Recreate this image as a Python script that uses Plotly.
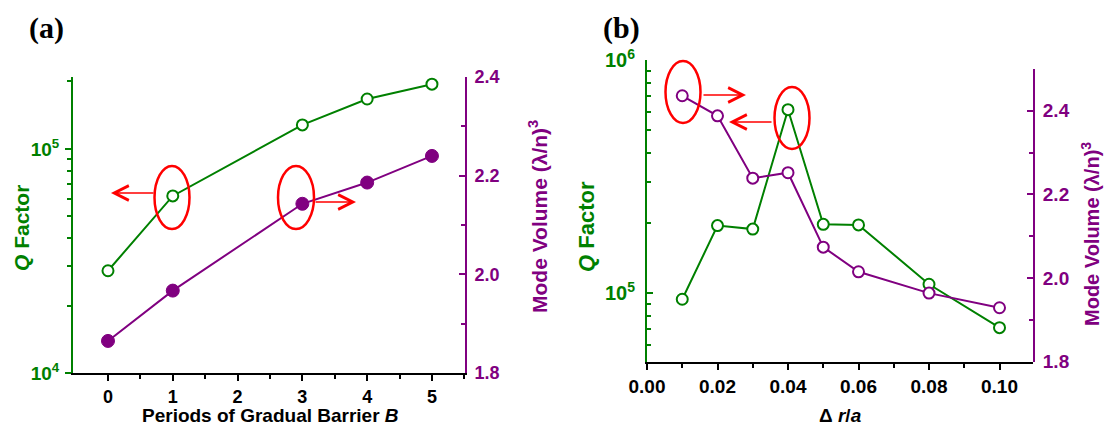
import math
import plotly.graph_objects as go

# ---------------- data ----------------
periods_B = [0, 1, 3, 4, 5]
q_factor_a = [28600, 61700, 128000, 167000, 194500]
mode_vol_a = [1.865, 1.967, 2.143, 2.186, 2.240]

delta_r_a = [0.01, 0.02, 0.03, 0.04, 0.05, 0.06, 0.08, 0.10]
q_factor_b = [94000, 194600, 188000, 612000, 197000, 196000, 109000, 71000]
mode_vol_b = [2.436, 2.388, 2.239, 2.252, 2.074, 2.015, 1.964, 1.929]

xticks_a = [0, 1, 2, 3, 4, 5]
xticks_b = [0.00, 0.02, 0.04, 0.06, 0.08, 0.10]
vticks = [1.8, 2.0, 2.2, 2.4]

# ---------------- style ----------------
PAGE_W, PAGE_H = 1112, 436
BODY = 8  # default page margin around the plot div
W, H = PAGE_W - 2 * BODY, PAGE_H - 2 * BODY
GREEN = "#008000"
PURPLE = "#800080"
RED = "#ff0000"
FONT = "Liberation Sans"


def px(x):
    return (x - BODY) / W


def py(y):
    return 1 - (y - BODY) / H


fig = go.Figure()

# panel (a)
fig.add_trace(go.Scatter(
    x=periods_B, y=q_factor_a, xaxis="x", yaxis="y", mode="lines+markers",
    line=dict(color=GREEN, width=2),
    marker=dict(symbol="circle", size=11, color="white", line=dict(color=GREEN, width=2)),
    showlegend=False))
fig.add_trace(go.Scatter(
    x=periods_B, y=mode_vol_a, xaxis="x", yaxis="y2", mode="lines+markers",
    line=dict(color=PURPLE, width=2),
    marker=dict(symbol="circle", size=13, color=PURPLE, line=dict(color=PURPLE, width=1)),
    showlegend=False))

# panel (b)
fig.add_trace(go.Scatter(
    x=delta_r_a, y=q_factor_b, xaxis="x2", yaxis="y3", mode="lines+markers",
    line=dict(color=GREEN, width=2),
    marker=dict(symbol="circle", size=11, color="white", line=dict(color=GREEN, width=2)),
    showlegend=False))
fig.add_trace(go.Scatter(
    x=delta_r_a, y=mode_vol_b, xaxis="x2", yaxis="y4", mode="lines+markers",
    line=dict(color=PURPLE, width=2),
    marker=dict(symbol="circle", size=11, color="white", line=dict(color=PURPLE, width=2)),
    showlegend=False))

tick_black = dict(family=FONT, size=18, color="black", weight="bold")
tick_green = dict(family=FONT, size=19, color=GREEN, weight="bold")
tick_purple = dict(family=FONT, size=18, color=PURPLE, weight="bold")


def log_minor(lo_exp, hi_val):
    vals = []
    for e in range(lo_exp - 1, 8):
        for m in range(2, 10):
            v = m * 10 ** e
            if v <= hi_val:
                vals.append(v)
    return vals


common = dict(showgrid=False, zeroline=False, showline=True, linewidth=2, automargin=False)

fig.update_layout(
    width=W, height=H, autosize=False,
    margin=dict(l=0, r=0, t=0, b=0, autoexpand=False),
    paper_bgcolor="white", plot_bgcolor="rgba(0,0,0,0)",
    xaxis=dict(**common, domain=[px(73), px(465)], range=[-0.54, 5.51], anchor="y",
               linecolor="black", tickmode="array", tickvals=xticks_a,
               ticks="outside", ticklen=6, tickwidth=2, tickcolor="black",
               minor=dict(tickvals=[v + 0.5 for v in xticks_a], ticks="outside",
                          ticklen=4, tickwidth=1.5, tickcolor="black"),
               tickfont=tick_black),
    yaxis=dict(**common, type="log", domain=[py(373), py(77)], range=[4, 5.321], anchor="x",
               linecolor=GREEN, tickmode="array", tickvals=[1e4, 1e5],
               ticktext=["10<sup>4</sup>", "10<sup>5</sup>"],
               ticks="outside", ticklen=6, tickwidth=2, tickcolor=GREEN,
               minor=dict(tickvals=log_minor(4, 2.1e5), ticks="outside",
                          ticklen=4, tickwidth=1.5, tickcolor=GREEN),
               tickfont=tick_green, ticklabelstandoff=2),
    yaxis2=dict(**common, overlaying="y", side="right", anchor="x", range=[1.8, 2.4],
                linecolor=PURPLE, tickmode="array", tickvals=vticks, tickformat=".1f",
                ticks="inside", ticklen=6, tickwidth=2, tickcolor=PURPLE,
                minor=dict(tickvals=[1.9, 2.1, 2.3], ticks="inside",
                           ticklen=4, tickwidth=1.5, tickcolor=PURPLE),
                tickfont=tick_purple, ticklabelstandoff=4),
    xaxis2=dict(**common, domain=[px(647), px(1033)], range=[0, 0.1095], anchor="y3",
                linecolor="black", tickmode="array", tickvals=xticks_b,
                ticktext=[f"{v:.2f}" for v in xticks_b],
                ticks="outside", ticklen=6, tickwidth=2, tickcolor="black",
                minor=dict(tickvals=[0.01, 0.03, 0.05, 0.07, 0.09], ticks="outside",
                           ticklen=4, tickwidth=1.5, tickcolor="black"),
                tickfont=dict(family=FONT, size=19, color="black", weight="bold")),
    yaxis3=dict(**common, type="log", domain=[py(361.7), py(60)], range=[4.705, 6.0],
                anchor="x2", linecolor=GREEN, tickmode="array", tickvals=[1e5, 1e6],
                ticktext=["10<sup>5</sup>", "10<sup>6</sup>"],
                ticks="inside", ticklen=6, tickwidth=2, tickcolor=GREEN,
                minor=dict(tickvals=[v for v in log_minor(5, 9e5) if v > 5.0e4],
                           ticks="inside", ticklen=4, tickwidth=1.5, tickcolor=GREEN),
                tickfont=dict(family=FONT, size=20, color=GREEN, weight="bold"),
                ticklabelstandoff=6),
    yaxis4=dict(**common, domain=[py(361.7), py(69)], side="right", anchor="x2",
                range=[1.8, 2.5], linecolor=PURPLE, tickmode="array", tickvals=vticks,
                tickformat=".1f", ticks="inside", ticklen=6, tickwidth=2, tickcolor=PURPLE,
                minor=dict(tickvals=[1.9, 2.1, 2.3, 2.5], ticks="inside",
                           ticklen=4, tickwidth=1.5, tickcolor=PURPLE),
                tickfont=dict(family=FONT, size=19, color=PURPLE, weight="bold"),
                ticklabelstandoff=4),
)

annotations = []


def text_ann(text, x, y, size, color, angle=0, family=FONT):
    annotations.append(dict(
        text=text, x=px(x), y=py(y), xref="paper", yref="paper",
        xanchor="center", yanchor="middle", showarrow=False, textangle=angle,
        font=dict(family=family, size=size, color=color, weight="bold")))


# panel letters
text_ann("(a)", 46, 28, 30, "black", family="Liberation Serif")
text_ann("(b)", 621, 28, 30, "black", family="Liberation Serif")

# axis titles
text_ann("<i>Q</i> Factor", 21, 228, 21, GREEN, angle=-90)
text_ann("Mode Volume (λ/n)<sup>3</sup>", 538, 217, 21, PURPLE, angle=-90)
text_ann("Periods of Gradual Barrier <i>B</i>", 270, 415, 19, "black")
text_ann("<i>Q</i> Factor", 586, 227, 22, GREEN, angle=-90)
text_ann("Mode Volume (λ/n)<sup>3</sup>", 1090, 234, 20, PURPLE, angle=-90)
text_ann("Δ <i>r</i>/<i>a</i>", 840, 415, 19, "black")


def arrow(tail_x, head_x, y):
    annotations.append(dict(
        text="", x=px(head_x), y=py(y), xref="paper", yref="paper",
        ax=tail_x - head_x, ay=0, axref="pixel", ayref="pixel",
        showarrow=True, arrowhead=5, arrowsize=1.8, arrowwidth=1.6,
        arrowcolor=RED, standoff=0, startstandoff=0))


arrow(155, 111, 193)
arrow(314, 356, 202)
arrow(702, 746, 95)
arrow(773, 729, 122)

fig.update_layout(annotations=annotations)

shapes = []


def ellipse(cx, cy, w, h):
    shapes.append(dict(
        type="circle", xref="paper", yref="paper",
        x0=px(cx - w / 2), x1=px(cx + w / 2), y0=py(cy + h / 2), y1=py(cy - h / 2),
        line=dict(color=RED, width=2.5), fillcolor="rgba(0,0,0,0)"))


ellipse(172, 197.5, 35, 63)
ellipse(296, 197.5, 36, 63)
ellipse(683, 92, 35, 62)
ellipse(792, 118, 35, 62)

fig.update_layout(shapes=shapes)

fig.write_html("out.html")
